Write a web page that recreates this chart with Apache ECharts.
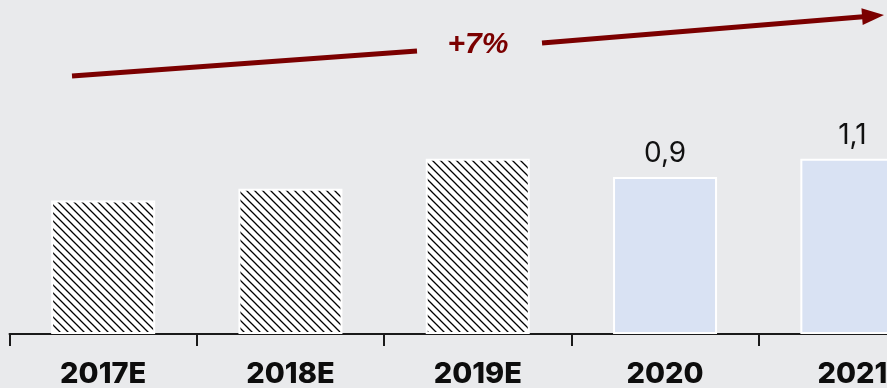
<!DOCTYPE html>
<html>
<head>
<meta charset="utf-8">
<script src="https://cdn.jsdelivr.net/npm/echarts@6/dist/echarts.min.js"></script>
<style>
html,body{margin:0;padding:0;background:#e9eaec;}
#c{width:887px;height:388px;}
</style>
</head>
<body>
<div id="c"></div>
<script>
const categories = ['2017E', '2018E', '2019E', '2020', '2021'];
const values = [0.80, 0.87, 1.05, 0.94, 1.05];
const valueLabels = ['', '', '', '0,9', '1,1'];
const estimated = [true, true, true, false, false];
const growthLabel = '+7%';

function hatch() {
  const c = document.createElement('canvas');
  c.width = 8; c.height = 8;
  const g = c.getContext('2d');
  g.fillStyle = '#ffffff';
  g.fillRect(0, 0, 8, 8);
  g.strokeStyle = '#000000';
  g.lineWidth = 1.3;
  g.beginPath();
  g.moveTo(-8, 0); g.lineTo(8, 16);
  g.moveTo(0, 0); g.lineTo(8, 8);
  g.moveTo(0, -8); g.lineTo(16, 8);
  g.stroke();
  return c;
}
const pattern = { image: hatch(), repeat: 'repeat' };

const chart = echarts.init(document.getElementById('c'), null, { renderer: 'canvas' });

const tip = [884, 15], dir = [0.997, -0.075], hl = 22, hw = 8.5;
const base = [tip[0] - hl * dir[0], tip[1] - hl * dir[1]];
const perp = [-dir[1], dir[0]];

chart.setOption({
  backgroundColor: '#e9eaec',
  animation: false,
  grid: { left: 9.5, right: -59, top: 0, bottom: 54, containLabel: false, outerBoundsMode: 'none' },
  xAxis: {
    type: 'category',
    data: categories,
    axisLine: { lineStyle: { color: '#1a1a1a', width: 2 } },
    axisTick: { show: true, length: 12, lineStyle: { color: '#1a1a1a', width: 2 } },
    axisLabel: {
      color: '#0d0d0d', fontFamily: 'Inter', fontWeight: 800, fontSize: 29, margin: 26
    }
  },
  yAxis: { type: 'value', min: 0, max: 2, show: false, splitLine: { show: false } },
  series: [{
    type: 'bar',
    barWidth: 104,
    data: values.map((v, i) => ({
      value: v,
      itemStyle: {
        color: estimated[i] ? pattern : '#d9e2f3',
        borderColor: '#ffffff',
        borderWidth: 2
      },
      label: {
        show: valueLabels[i] !== '',
        formatter: () => valueLabels[i]
      }
    })),
    label: {
      position: 'top', distance: 9, color: '#111', fontFamily: 'Inter', fontWeight: 400, fontSize: 28
    }
  }],
  graphic: [
    { type: 'line', shape: { x1: 72, y1: 76, x2: 417, y2: 51 }, style: { stroke: '#7b0000', lineWidth: 5 } },
    { type: 'line', shape: { x1: 542, y1: 43, x2: base[0] + 1, y2: base[1] }, style: { stroke: '#7b0000', lineWidth: 5 } },
    { type: 'polygon', shape: { points: [tip, [base[0] + perp[0] * hw, base[1] + perp[1] * hw], [base[0] - perp[0] * hw, base[1] - perp[1] * hw]] }, style: { fill: '#7b0000' } },
    { type: 'text', x: 478, y: 45, style: { text: growthLabel, fill: '#7b0000', font: 'italic bold 30px "Liberation Sans"', textAlign: 'center', textVerticalAlign: 'middle' } }
  ]
});
</script>
</body>
</html>
